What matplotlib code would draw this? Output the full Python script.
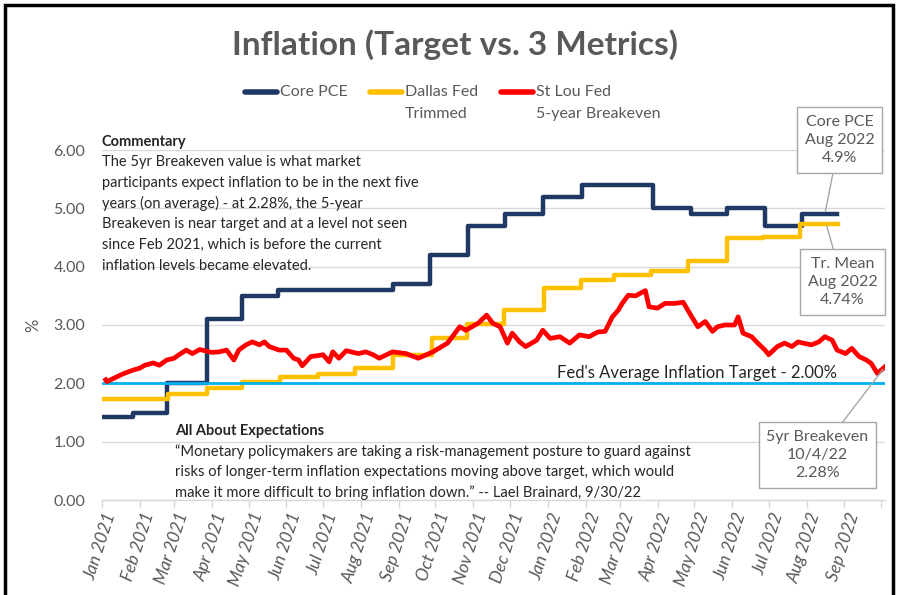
import matplotlib
matplotlib.use('Agg')
import matplotlib.pyplot as plt
import matplotlib.dates as mdates
from matplotlib.patches import Rectangle
from matplotlib.lines import Line2D
import pandas as pd

W, H = 907, 595

# ---------------- data ----------------
core_dates = ['2021-01-01', '2021-01-26', '2021-02-23', '2021-03-28', '2021-04-26', '2021-05-25',
              '2021-08-27', '2021-09-27', '2021-10-28', '2021-11-27', '2021-12-28', '2022-01-29',
              '2022-03-28', '2022-04-28', '2022-05-28', '2022-06-28', '2022-07-28', '2022-08-26']
core_vals = [1.42, 1.50, 2.00, 3.10, 3.50, 3.60, 3.70, 4.20, 4.70, 4.90, 5.20, 5.40,
             5.00, 4.90, 5.00, 4.70, 4.90, 4.90]

trim_dates = ['2021-01-01', '2021-02-24', '2021-03-28', '2021-04-26', '2021-05-27', '2021-06-27',
              '2021-07-27', '2021-08-27', '2021-09-28', '2021-10-27', '2021-11-26', '2021-12-29',
              '2022-01-28', '2022-02-24', '2022-03-27', '2022-04-26', '2022-05-28', '2022-06-26',
              '2022-07-27', '2022-08-27']
trim_vals = [1.73, 1.82, 1.92, 2.02, 2.11, 2.16, 2.26, 2.49, 2.77, 3.02, 3.26, 3.64,
             3.77, 3.86, 3.92, 4.09, 4.49, 4.51, 4.74, 4.74]

be_dates = ['2021-01-04', '2021-01-05', '2021-01-11', '2021-01-19', '2021-01-27', '2021-02-01',
            '2021-02-05', '2021-02-12', '2021-02-17', '2021-02-23', '2021-03-01', '2021-03-05',
            '2021-03-11', '2021-03-16', '2021-03-22', '2021-03-26', '2021-04-01', '2021-04-07',
            '2021-04-13', '2021-04-19', '2021-04-23', '2021-04-29', '2021-05-04', '2021-05-10',
            '2021-05-14', '2021-05-18', '2021-05-26', '2021-06-01', '2021-06-07', '2021-06-11',
            '2021-06-14', '2021-06-21', '2021-06-25', '2021-07-01', '2021-07-06', '2021-07-09',
            '2021-07-14', '2021-07-20', '2021-07-26', '2021-07-30', '2021-08-05', '2021-08-11',
            '2021-08-16', '2021-08-27', '2021-09-07', '2021-09-17', '2021-09-29', '2021-10-11',
            '2021-10-21', '2021-10-26', '2021-11-05', '2021-11-12', '2021-11-17', '2021-11-23',
            '2021-11-29', '2021-12-03', '2021-12-09', '2021-12-14', '2021-12-23', '2021-12-28',
            '2022-01-03', '2022-01-11', '2022-01-19', '2022-01-27', '2022-02-04', '2022-02-11',
            '2022-02-17', '2022-02-23', '2022-02-28', '2022-03-03', '2022-03-08', '2022-03-14',
            '2022-03-22', '2022-03-25', '2022-04-01', '2022-04-07', '2022-04-15', '2022-04-22',
            '2022-04-29', '2022-05-04', '2022-05-10', '2022-05-16', '2022-05-20', '2022-05-26',
            '2022-06-03', '2022-06-06', '2022-06-10', '2022-06-17', '2022-06-22', '2022-06-28',
            '2022-07-01', '2022-07-08', '2022-07-14', '2022-07-20', '2022-07-25', '2022-07-29',
            '2022-08-05', '2022-08-11', '2022-08-16', '2022-08-22', '2022-08-26', '2022-09-02',
            '2022-09-07', '2022-09-13', '2022-09-19', '2022-09-23', '2022-09-28', '2022-10-04']
be_vals = [2.06, 2.03, 2.09, 2.17, 2.23, 2.26, 2.31, 2.35, 2.31, 2.40, 2.43, 2.49,
           2.57, 2.51, 2.58, 2.56, 2.53, 2.54, 2.57, 2.40, 2.57, 2.66, 2.71, 2.66,
           2.71, 2.63, 2.57, 2.57, 2.43, 2.40, 2.30, 2.46, 2.47, 2.49, 2.37, 2.54,
           2.43, 2.56, 2.53, 2.51, 2.54, 2.49, 2.43, 2.54, 2.51, 2.43, 2.54, 2.69,
           2.97, 2.91, 3.03, 3.17, 3.03, 2.97, 2.69, 2.86, 2.71, 2.63, 2.74, 2.91,
           2.77, 2.80, 2.69, 2.83, 2.80, 2.88, 2.89, 3.14, 3.26, 3.37, 3.51, 3.50,
           3.59, 3.31, 3.29, 3.37, 3.37, 3.39, 3.14, 2.97, 3.06, 2.89, 2.97, 3.00,
           3.00, 3.14, 2.86, 2.80, 2.69, 2.57, 2.49, 2.63, 2.69, 2.63, 2.71, 2.69,
           2.66, 2.71, 2.80, 2.74, 2.57, 2.51, 2.60, 2.46, 2.40, 2.34, 2.17, 2.28]

target_dates = ['2021-01-01', '2022-10-04']
target_vals = [2.00, 2.00]

x_start, x_end = '2021-01-01', '2022-10-04'
y_ticks = [0, 1, 2, 3, 4, 5, 6]

# ---------------- styling ----------------
NAVY = '#1F3864'
GOLD = '#FFC000'
RED = '#FF0000'
BLUE = '#00B0F0'
GRAY = '#595959'
TXT = '#262626'
FONT = ['Lato', 'DejaVu Sans']
plt.rcParams['font.family'] = FONT


def fx(x):
    return x / W


def fy(y):
    return 1 - y / H


AX_L, AX_R = 102, 884.7
fig = plt.figure(figsize=(W / 100, H / 100), dpi=100)
ax = fig.add_axes([fx(AX_L), fy(500), fx(AX_R) - fx(AX_L), fy(150) - fy(500)])

cd = pd.to_datetime(core_dates)
td = pd.to_datetime(trim_dates)
bd = pd.to_datetime(be_dates)
gd = pd.to_datetime(target_dates)

ax.plot(cd, core_vals, drawstyle='steps-post', color=NAVY, lw=3.2, zorder=3)
ax.plot(td, trim_vals, drawstyle='steps-post', color=GOLD, lw=3.2, zorder=3)
ax.plot(gd, target_vals, color=BLUE, lw=2.0, zorder=4)
ax.plot(bd, be_vals, color=RED, lw=3.4, zorder=5)

ax.set_xlim(pd.Timestamp(x_start), pd.Timestamp(x_end))
ax.set_ylim(0, 6)
ax.set_yticks(y_ticks)
ax.set_yticklabels([f'{v:.2f}' for v in y_ticks], color=GRAY, fontsize=11.5)
ax.tick_params(axis='y', length=0, pad=12)
ax.grid(axis='y', color='#D9D9D9', lw=1)
ax.set_axisbelow(True)
for s in ['left', 'right', 'top']:
    ax.spines[s].set_visible(False)
ax.spines['bottom'].set_color('#D9D9D9')
ax.spines['bottom'].set_linewidth(1)

ax.xaxis.set_major_locator(mdates.MonthLocator())
ax.xaxis.set_major_formatter(mdates.DateFormatter(''))
ax.xaxis.set_minor_locator(mdates.MonthLocator(bymonthday=15))
ax.xaxis.set_minor_formatter(mdates.DateFormatter('%b %Y'))
ax.tick_params(axis='x', which='major', length=6, color='#D9D9D9', width=1)
ax.tick_params(axis='x', which='minor', length=0, pad=11)
for lab in ax.xaxis.get_minorticklabels():
    lab.set_rotation(72)
    lab.set_ha('right')
    lab.set_va('bottom')
    lab.set_rotation_mode('anchor')
    lab.set_color(GRAY)
    lab.set_fontsize(12.5)
    lab.set_style('italic')

fig.text(fx(33), fy(325), '%', rotation=90, ha='center', va='center', color=GRAY, fontsize=12)

# ---------------- title & legend ----------------
fig.text(fx(455), fy(45), 'Inflation (Target vs. 3 Metrics)', ha='center', va='center',
         fontsize=24, fontweight='bold', color=GRAY)

leg = [(245, NAVY, ['Core PCE']), (370, GOLD, ['Dallas Fed', 'Trimmed']),
       (501, RED, ['St Lou Fed', '5-year Breakeven'])]
for x0, c, lines in leg:
    fig.add_artist(Line2D([fx(x0), fx(x0 + 32)], [fy(92), fy(92)], color=c, lw=4,
                          solid_capstyle='round', transform=fig.transFigure))
    for j, t in enumerate(lines):
        fig.text(fx(x0 + 35), fy(92 + 22 * j), t, ha='left', va='center', color=GRAY,
                 fontsize=11.5)

# ---------------- commentary ----------------
fig.text(fx(102), fy(142), 'Commentary', ha='left', va='center', fontsize=10.5,
         fontweight='bold', color=TXT)
comm = ['The 5yr Breakeven value is what market',
        'participants expect inflation to be in the next five',
        'years (on average) - at 2.28%, the 5-year',
        'Breakeven is near target and at a level not seen',
        'since Feb 2021, which is before the current',
        'inflation levels became elevated.']
for i, line in enumerate(comm):
    fig.text(fx(102), fy(162.5 + 20.6 * i), line, ha='left', va='center', fontsize=10.5, color=TXT)

fig.text(fx(175), fy(431), 'All About Expectations', ha='left', va='center', fontsize=10.5,
         fontweight='bold', color=TXT)
quote = ['\u201cMonetary policymakers are taking a risk-management posture to guard against',
         'risks of longer-term inflation expectations moving above target, which would',
         'make it more difficult to bring inflation down.\u201d -- Lael Brainard, 9/30/22']
for i, line in enumerate(quote):
    fig.text(fx(175), fy(451.5 + 20.6 * i), line, ha='left', va='center', fontsize=10.65, color=TXT)

fig.text(fx(557), fy(373), "Fed's Average Inflation Target - 2.00%", ha='left', va='center',
         fontsize=12, color=TXT)

# ---------------- annotation boxes ----------------
box = dict(boxstyle='square,pad=0.45', fc='white', ec='#A6A6A6', lw=1)
arrow = dict(arrowstyle='-', color='#A6A6A6', lw=1, shrinkA=0, shrinkB=2)
kw = dict(textcoords='figure pixels', ha='center', va='center', fontsize=11.5, color=GRAY,
          linespacing=1.4, bbox=box, arrowprops=arrow, zorder=6)
ax.annotate('Core PCE\nAug 2022\n4.9%', xy=(cd[-1] - pd.Timedelta(days=10), core_vals[-1]),
            xytext=(839.5, H - 140), **kw)
ax.annotate('Tr. Mean\nAug 2022\n4.74%', xy=(td[-1] - pd.Timedelta(days=10), trim_vals[-1]),
            xytext=(842.5, H - 282), **kw)
ax.annotate('5yr Breakeven\n10/4/22\n2.28%', xy=(bd[-1], be_vals[-1]),
            xytext=(817.5, H - 455), **kw)

# ---------------- frame ----------------
fig.add_artist(Rectangle((fx(5), -0.05), fx(893) - fx(5), fy(5) + 0.05, fill=False,
                         ec='black', lw=2.5, transform=fig.transFigure, clip_on=False))

fig.savefig('out.png', dpi=100)
